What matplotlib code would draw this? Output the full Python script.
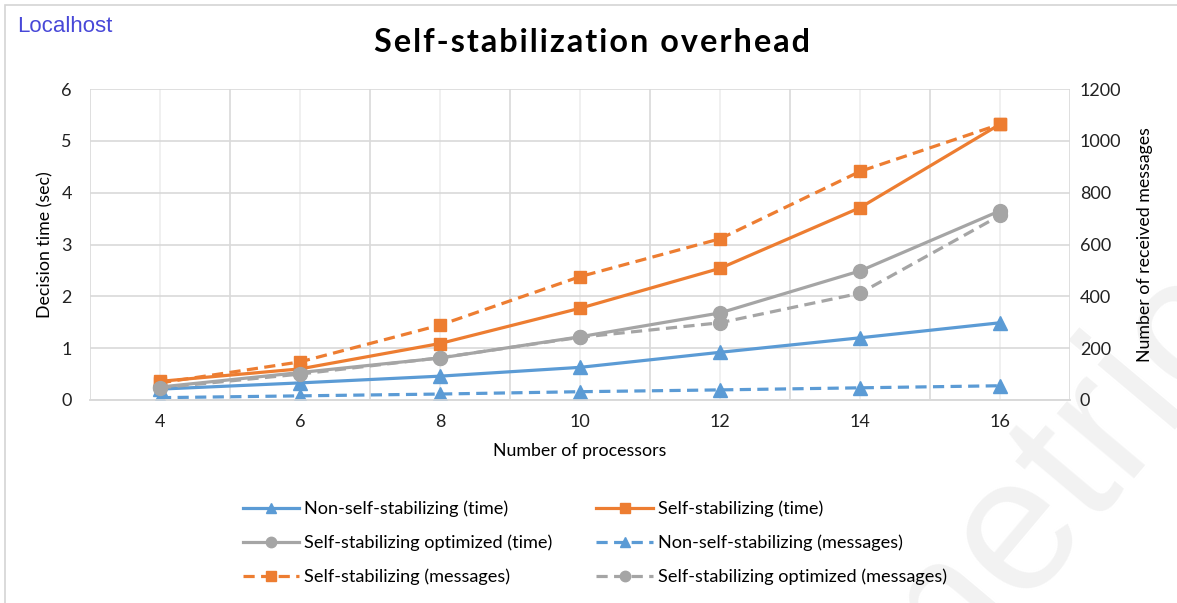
import numpy as np
import matplotlib
matplotlib.use('Agg')
from matplotlib import pyplot as plt
from matplotlib.patches import Rectangle

# number of processors
procs = ['4', '6', '8', '10', '12', '14', '16']

# decision time (sec), left axis
time_non_ss = [0.21, 0.33, 0.46, 0.63, 0.92, 1.20, 1.49]
time_ss = [0.36, 0.60, 1.09, 1.77, 2.54, 3.71, 5.32]
time_ss_opt = [0.25, 0.53, 0.81, 1.22, 1.68, 2.49, 3.65]

# received messages, right axis
msg_non_ss = [9, 16, 23, 32, 39, 47, 55]
msg_ss = [66, 147, 289, 476, 622, 882, 1064]
msg_ss_opt = [47, 100, 163, 242, 298, 412, 712]

left_ticks = [0, 1, 2, 3, 4, 5, 6]
right_ticks = [0, 200, 400, 600, 800, 1000, 1200]

blue = '#5B9BD5'
orange = '#ED7D31'
gray = '#A5A5A5'

plt.rcParams['font.family'] = ['Lato', 'DejaVu Sans']

fig = plt.figure(figsize=(11.77, 6.03), dpi=100)
ax = fig.add_axes([90 / 1177, 1 - 400 / 603, 980 / 1177, 311 / 603])
ax2 = ax.twinx()

# faint watermark behind everything
fig.text(917 / 1177, 1 - 723 / 603, 'metric', fontsize=138, color='#f2f2f2',
         family='Liberation Sans', rotation=50, rotation_mode='anchor',
         ha='left', va='baseline', zorder=-10)

# panel border
fig.patches.append(Rectangle((5 / 1177, -0.1), 1.2, 1 - 5 / 603 + 0.1,
                             transform=fig.transFigure, fill=False,
                             edgecolor='#d4d4d4', lw=1.2, zorder=-5))

x = np.arange(len(procs))
lw = 2.3
dash = (3.5, 2)

l1, = ax.plot(x, time_non_ss, color=blue, lw=lw, marker='^', ms=10,
              label='Non-self-stabilizing (time)')
l2, = ax.plot(x, time_ss, color=orange, lw=lw, marker='s', ms=9,
              label='Self-stabilizing (time)')
l3, = ax.plot(x, time_ss_opt, color=gray, lw=lw, marker='o', ms=10,
              label='Self-stabilizing optimized (time)')
l4, = ax2.plot(x, msg_non_ss, color=blue, lw=lw, ls='--', dashes=dash,
               marker='^', ms=10, label='Non-self-stabilizing (messages)')
l5, = ax2.plot(x, msg_ss, color=orange, lw=lw, ls='--', dashes=dash,
               marker='s', ms=9, label='Self-stabilizing (messages)')
l6, = ax2.plot(x, msg_ss_opt, color=gray, lw=lw, ls='--', dashes=dash,
               marker='o', ms=10, label='Self-stabilizing optimized (messages)')

ax.set_xlim(-0.5, len(procs) - 0.5)
ax.set_ylim(0, 6)
ax2.set_ylim(0, 1200)
ax.set_yticks(left_ticks)
ax2.set_yticks(right_ticks)
ax.set_xticks(x)
ax.set_xticklabels(procs)
ax.set_xticks(np.arange(-0.5, len(procs), 1), minor=True)

ax.grid(True, axis='y', color='#d9d9d9', lw=1.2)
ax.grid(True, axis='x', which='minor', color='#d9d9d9', lw=1.2)
ax.grid(True, axis='x', which='major', color='#ededed', lw=1.2)
ax.set_axisbelow(True)

for a in (ax, ax2):
    for s in a.spines.values():
        s.set_color('#d9d9d9')
        s.set_linewidth(1.2)
    a.spines['top'].set_visible(False)
    a.spines['right'].set_visible(False)
    a.spines['left'].set_visible(False)

ax.tick_params(axis='both', which='both', length=0, labelsize=13, colors='#222222')
ax.tick_params(axis='y', pad=13)
ax.tick_params(axis='x', pad=10)
ax2.tick_params(axis='y', length=0, labelsize=13, colors='#222222', pad=7)

ax.set_xlabel('Number of processors', fontsize=12.75)
ax.set_ylabel('Decision time (sec)', fontsize=12.75)
ax2.set_ylabel('Number of received messages', fontsize=12.75)
ax.xaxis.set_label_coords(0.5, -0.138)
ax.yaxis.set_label_coords(-0.037, 0.5)
ax2.yaxis.set_label_coords(1.068, 0.5)

# spaced-out bold title
title = 'Self-stabilization overhead'
fig.text(592 / 1177, 1 - 43 / 603, '\u200a'.join(title), fontsize=23.3,
         fontweight='bold', ha='center', va='center',
         family=['Lato', 'DejaVu Sans'])
fig.text(17 / 1177, 1 - 27 / 603, 'Localhost', fontsize=16, color='#4848d8',
         family='Liberation Sans', ha='left', va='center')

# row-major order: (1, 2), (3, 4), (5, 6)
handles = [l1, l3, l5, l2, l4, l6]
fig.legend(handles, [h.get_label() for h in handles], ncol=2,
           loc='center', bbox_to_anchor=(595 / 1177, 1 - 543 / 603),
           frameon=False, fontsize=13.1, numpoints=1, handlelength=3.1,
           labelspacing=0.96, columnspacing=2.4, handletextpad=0.3,
           markerscale=0.75)

fig.savefig('out.png', dpi=100)
